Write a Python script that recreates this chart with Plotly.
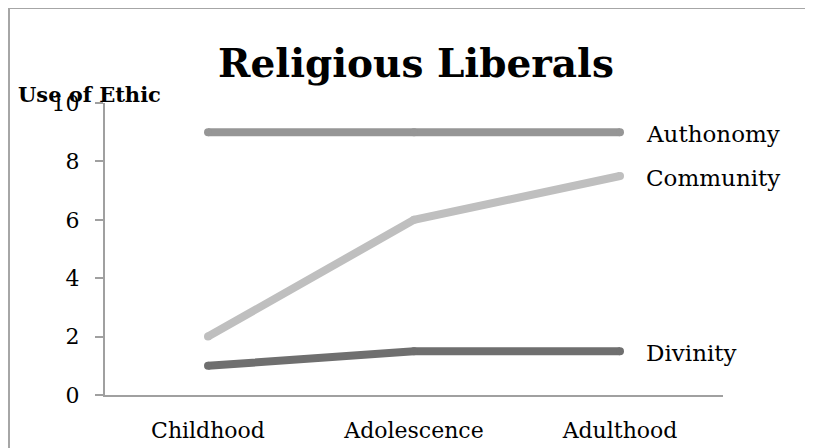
import plotly.graph_objects as go

stages = ["Childhood", "Adolescence", "Adulthood"]
authonomy = [9, 9, 9]
community = [2, 6, 7.5]
divinity = [1, 1.5, 1.5]
series_names = ["Authonomy", "Community", "Divinity"]
y_ticks = [0, 2, 4, 6, 8, 10]

colors = {"Authonomy": "#969696", "Community": "#bfbfbf", "Divinity": "#6f6f6f"}
FONT = "DejaVu Serif"

# page body adds an 8px offset, so the figure is 8px smaller than the window
W, H = 805, 440
L, R, T, B = 97, 90, 95, 53
pw, ph = W - L - R, H - T - B

fig = go.Figure()
for name, vals in zip(series_names, [authonomy, community, divinity]):
    fig.add_trace(
        go.Scatter(
            x=stages,
            y=vals,
            mode="lines+markers",
            name=name,
            line=dict(color=colors[name], width=8),
            marker=dict(color=colors[name], size=8, line=dict(width=0)),
            showlegend=False,
            hoverinfo="skip",
        )
    )
    fig.add_annotation(
        x=stages[-1], y=vals[-1], text=name, showarrow=False,
        xanchor="left", xshift=24, yshift=-2,
        font=dict(family=FONT, size=23, color="black"),
    )

# y axis title, drawn horizontally above the axis
fig.add_annotation(
    x=(8 - L) / pw, y=(H - B - 86) / ph, xref="paper", yref="paper",
    text="<b>Use of Ethic</b>", showarrow=False, xanchor="left", yanchor="middle",
    font=dict(family=FONT, size=21, color="black"),
)

# outer chart border (runs off the right and bottom edges)
fig.add_shape(
    type="rect", xref="paper", yref="paper",
    x0=(1 - L) / pw, x1=(W + 10 - L) / pw,
    y0=(H - B - (H + 10)) / ph, y1=(H - B - 0) / ph,
    line=dict(color="#a6a6a6", width=2), layer="below",
)

fig.update_layout(
    width=W, height=H,
    margin=dict(l=L, r=R, t=T, b=B),
    paper_bgcolor="white", plot_bgcolor="white",
    title=dict(
        text="<b>Religious Liberals</b>", x=408 / W, xanchor="center",
        y=1 - 55 / H, yanchor="middle",
        font=dict(family=FONT, size=39, color="black"),
    ),
    font=dict(family=FONT, size=22, color="black"),
    xaxis=dict(
        range=[-0.5, 2.5], showgrid=False, zeroline=False, automargin=False,
        showline=True, linecolor="#a0a0a0", linewidth=2,
        ticks="", tickfont=dict(family=FONT, size=22), ticklabelstandoff=15,
    ),
    yaxis=dict(
        range=[0, 10], tickvals=y_ticks, showgrid=False, zeroline=False,
        automargin=False,
        showline=True, linecolor="#a0a0a0", linewidth=2,
        ticks="outside", ticklen=8, tickcolor="#a0a0a0", tickwidth=2,
        tickfont=dict(family=FONT, size=22), ticklabelstandoff=11,
    ),
)

fig.write_html("out.html")
